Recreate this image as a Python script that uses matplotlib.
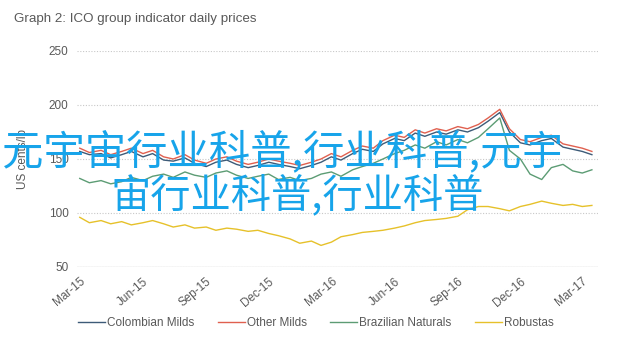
import numpy as np
import pandas as pd
import matplotlib
matplotlib.use("Agg")
import matplotlib.pyplot as plt
import matplotlib.dates as mdates

# semi-monthly sampling of the ICO group indicator prices (US cents/lb)
dates = pd.date_range("2015-03-01", "2017-03-15", freq="SMS")

other_milds = [160, 156, 158, 154, 157, 160, 155, 158, 152, 150,
               154, 149, 146, 150, 152, 148, 145, 147, 150, 148,
               146, 144, 147, 150, 155, 152, 158, 162, 160, 167,
               172, 170, 177, 174, 178, 176, 180, 178, 182, 188,
               196, 178, 168, 166, 170, 172, 164, 162, 160, 157]

colombian_milds = [157, 154, 155, 151, 154, 157, 152, 155, 149, 148,
                   151, 146, 143, 147, 149, 145, 142, 144, 147, 145,
                   143, 141, 144, 147, 152, 149, 155, 159, 157, 164,
                   169, 167, 174, 171, 175, 173, 177, 175, 179, 185,
                   193, 175, 165, 163, 167, 169, 161, 159, 157, 154]

brazilian_naturals = [132, 128, 130, 127, 129, 133, 130, 134, 136, 133,
                      138, 135, 133, 137, 139, 135, 132, 134, 136, 131,
                      133, 130, 132, 136, 138, 134, 140, 143, 146, 150,
                      155, 158, 163, 160, 166, 163, 168, 165, 170, 178,
                      188, 158, 150, 136, 131, 142, 145, 139, 137, 140]

robustas = [96, 91, 93, 90, 92, 89, 91, 93, 90, 87,
            89, 86, 87, 84, 86, 85, 83, 84, 81, 79,
            76, 72, 74, 70, 73, 78, 80, 82, 83, 84,
            86, 88, 91, 93, 94, 95, 97, 103, 106, 106,
            104, 102, 106, 108, 111, 109, 107, 108, 106, 107]

series = [("Colombian Milds", colombian_milds, "#3d5b78"),
          ("Other Milds", other_milds, "#e0604f"),
          ("Brazilian Naturals", brazilian_naturals, "#5c9c74"),
          ("Robustas", robustas, "#e6c12a")]

yticks = [50, 100, 150, 200, 250]
xtick_dates = pd.date_range("2015-03-01", "2017-03-01", freq="QS-MAR")

grey = "#595959"
plt.rcParams["font.family"] = ["Liberation Sans", "DejaVu Sans"]

fig = plt.figure(figsize=(6.23, 3.39), dpi=100)
ax = fig.add_axes([0.1236, 0.2124, 0.8364, 0.6372])

for name, vals, col in series:
    ax.plot(dates, vals, color=col, lw=1.0, label=name)

ax.set_ylim(50, 250)
ax.set_yticks(yticks)
ax.set_xlim(pd.Timestamp("2015-02-25"), pd.Timestamp("2017-03-24"))
ax.set_xticks(xtick_dates)
ax.xaxis.set_major_formatter(mdates.DateFormatter("%b-%y"))
for lbl in ax.get_xticklabels():
    lbl.set_rotation(40)
    lbl.set_ha("right")
    lbl.set_rotation_mode("anchor")

ax.grid(axis="y", color="#c8c8c8", ls=(0, (1, 1.5)), lw=0.8)
ax.axhline(50, color="#d9d9d9", lw=1.0)
for s in ax.spines.values():
    s.set_visible(False)
ax.tick_params(length=0, colors=grey, labelsize=8.5, pad=6)
ax.set_ylabel("US cents/lb", color=grey, fontsize=8.5, labelpad=14)

fig.text(0.022, 0.945, "Graph 2: ICO group indicator daily prices",
         color=grey, fontsize=9.6, va="center")

fig.legend(loc="center", bbox_to_anchor=(0.507, 0.047), ncol=4, frameon=False,
           fontsize=8.5, handlelength=2.3, handletextpad=0.15,
           columnspacing=2.0, labelcolor=grey)

# overlaid caption text
cjk = ["Noto Sans CJK SC", "DejaVu Sans"]
fig.text(0.004, 1 - 152 / 339, "元宇宙行业科普,行业科普,元宇", family=cjk,
         color="#17a4ea", fontsize=29.8, va="center", ha="left", zorder=10)
fig.text(110 / 623, 1 - 195 / 339, "宙行业科普,行业科普", family=cjk,
         color="#17a4ea", fontsize=29, va="center", ha="left", zorder=10)

fig.savefig("out.png", dpi=100)
